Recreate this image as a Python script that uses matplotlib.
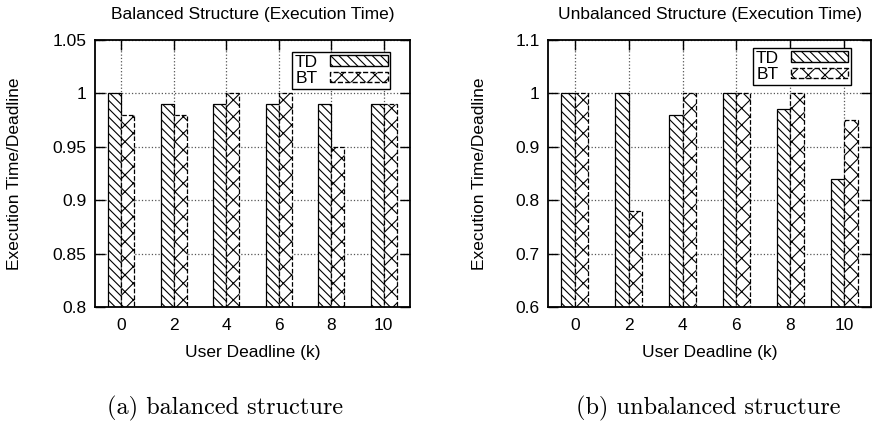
import numpy as np
import matplotlib.pyplot as plt
from matplotlib.patches import Patch
from matplotlib.ticker import FormatStrFormatter, MultipleLocator

plt.rcParams['font.family'] = ['Liberation Sans', 'DejaVu Sans']
plt.rcParams['hatch.linewidth'] = 0.8

deadlines = ['0', '2', '4', '6', '8', '10']

# balanced structure
bal_td = [1.00, 0.99, 0.99, 0.99, 0.99, 0.99]
bal_bt = [0.98, 0.98, 1.00, 1.00, 0.95, 0.99]

# unbalanced structure
unb_td = [1.00, 1.00, 0.96, 1.00, 0.97, 0.84]
unb_bt = [1.00, 0.78, 1.00, 1.00, 1.00, 0.95]

W, H = 872, 421
fig = plt.figure(figsize=(W / 100, H / 100), dpi=100)

fs = 12.5
width = 0.25


def panel(left, right, td, bt, ylim, ystep, title, leg_anchor, ylab_x):
    top, bottom = 40, 307
    ax = fig.add_axes([left / W, 1 - bottom / H, (right - left) / W, (bottom - top) / H])
    x = np.arange(len(deadlines))
    ax.bar(x - width / 2, td, width, color='white', edgecolor='black',
           linewidth=0.9, hatch='\\\\\\\\', zorder=2)
    ax.bar(x + width / 2, bt, width, color='white', edgecolor='black',
           linewidth=0.9, linestyle='--', hatch='xx', zorder=2)
    ax.set_xlim(-0.5, 5.5)
    ax.set_ylim(*ylim)
    ax.yaxis.set_major_locator(MultipleLocator(ystep))
    ax.yaxis.set_major_formatter(FormatStrFormatter('%g'))
    ax.set_xticks(x)
    ax.set_xticklabels(deadlines)
    ax.tick_params(direction='in', top=True, right=True, length=7, width=1,
                   labelsize=fs, pad=6)
    ax.tick_params(axis='x', pad=8)
    ax.grid(True, linestyle=':', color='#555555', linewidth=0.9, zorder=0)
    ax.set_axisbelow(True)
    for s in ax.spines.values():
        s.set_linewidth(1.3)
    ax.set_xlabel('User Deadline (k)', fontsize=fs)
    ax.xaxis.label.set_va('center')
    ax.xaxis.set_label_coords(0.5, (bottom - 353) / (bottom - top))
    ax.set_ylabel('Execution Time/Deadline', fontsize=fs)
    ax.yaxis.label.set_va('center')
    ax.yaxis.set_label_coords((ylab_x - left) / (right - left), 0.5)
    fig.text((left + right) / 2 / W, 1 - 15 / H, title, fontsize=fs,
             ha='center', va='center')
    handles = [Patch(facecolor='white', edgecolor='black', hatch='\\\\\\\\', label='TD'),
               Patch(facecolor='white', edgecolor='black', hatch='xx',
                     linestyle='--', label='BT')]
    leg = ax.legend(handles=handles, loc='upper right', bbox_to_anchor=leg_anchor,
                    markerfirst=False, fancybox=False, framealpha=1,
                    edgecolor='black', fontsize=fs, handlelength=3.3,
                    handleheight=0.55, handletextpad=0.7, labelspacing=0.1,
                    borderpad=0.15, borderaxespad=0)
    leg.get_frame().set_linewidth(1.0)
    return ax


panel(95, 410, bal_td, bal_bt, (0.8, 1.05), 0.05,
      'Balanced Structure (Execution Time)', (0.937, 0.955), 15)
panel(548, 871, unb_td, unb_bt, (0.6, 1.1), 0.1,
      'Unbalanced Structure (Execution Time)', (0.938, 0.970), 479)

fig.text(225 / W, 1 - 408 / H, '(a) balanced structure', fontsize=17.5,
         family='cmr10', ha='center', va='center')
fig.text(708 / W, 1 - 408 / H, '(b) unbalanced structure', fontsize=17.5,
         family='cmr10', ha='center', va='center')

fig.savefig('out.png', dpi=100)
